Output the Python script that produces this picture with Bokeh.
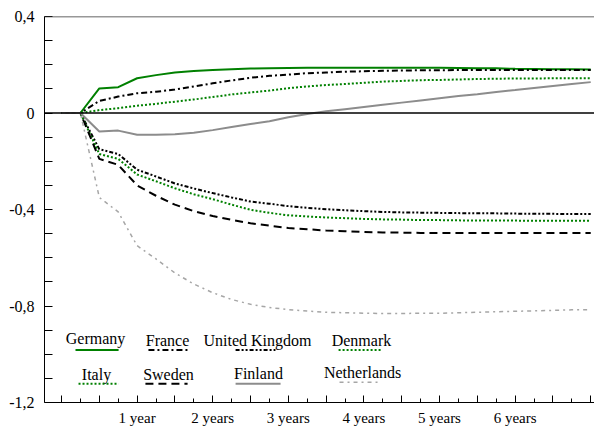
from bokeh.plotting import figure
from bokeh.models import Range1d, FixedTicker, CustomJSTickFormatter, Span
from bokeh.core.properties import value
from bokeh.embed import file_html
from bokeh.resources import INLINE

# ---------------- data (quarters after the shock) ----------------
quarters = list(range(29))
year_ticks = [4, 8, 12, 16, 20, 24]
year_labels = ["1 year", "2 years", "3 years", "4 years", "5 years", "6 years"]

germany = [0, 0, 0.102, 0.107, 0.144, 0.157, 0.168, 0.174, 0.178, 0.181, 0.184, 0.186,
           0.187, 0.188, 0.188, 0.188, 0.188, 0.188, 0.188, 0.188, 0.188, 0.187, 0.186,
           0.185, 0.183, 0.182, 0.181, 0.181, 0.180]
france = [0, 0, 0.050, 0.068, 0.082, 0.088, 0.097, 0.110, 0.123, 0.135, 0.146, 0.154,
          0.159, 0.165, 0.168, 0.171, 0.173, 0.175, 0.176, 0.177, 0.177, 0.178, 0.178,
          0.178, 0.178, 0.178, 0.178, 0.178, 0.178]
united_kingdom = [0, 0, -0.150, -0.170, -0.235, -0.263, -0.292, -0.313, -0.332, -0.350,
                  -0.367, -0.376, -0.386, -0.393, -0.399, -0.403, -0.407, -0.410, -0.412,
                  -0.413, -0.414, -0.415, -0.416, -0.416, -0.417, -0.418, -0.418, -0.419,
                  -0.419]
denmark = [0, 0, 0.012, 0.020, 0.030, 0.038, 0.047, 0.056, 0.066, 0.077, 0.085, 0.093,
           0.103, 0.110, 0.116, 0.120, 0.125, 0.130, 0.133, 0.136, 0.137, 0.139, 0.141,
           0.142, 0.143, 0.143, 0.144, 0.144, 0.144]
italy = [0, 0, -0.170, -0.190, -0.255, -0.283, -0.312, -0.337, -0.357, -0.380, -0.401,
         -0.414, -0.424, -0.429, -0.433, -0.436, -0.439, -0.441, -0.442, -0.444, -0.444,
         -0.445, -0.446, -0.446, -0.446, -0.447, -0.447, -0.447, -0.447]
sweden = [0, 0, -0.190, -0.215, -0.300, -0.343, -0.380, -0.407, -0.427, -0.443, -0.457,
          -0.467, -0.477, -0.482, -0.487, -0.490, -0.493, -0.495, -0.496, -0.497, -0.497,
          -0.497, -0.497, -0.497, -0.497, -0.497, -0.497, -0.497, -0.497]
finland = [0, 0, -0.077, -0.073, -0.090, -0.090, -0.088, -0.082, -0.071, -0.058, -0.046,
           -0.034, -0.018, -0.004, 0.007, 0.016, 0.025, 0.034, 0.043, 0.052, 0.061, 0.070,
           0.078, 0.087, 0.095, 0.104, 0.112, 0.120, 0.128]
netherlands = [0, 0, -0.350, -0.410, -0.550, -0.605, -0.663, -0.709, -0.745, -0.773, -0.793,
               -0.806, -0.815, -0.821, -0.826, -0.828, -0.830, -0.831, -0.831, -0.830,
               -0.830, -0.828, -0.826, -0.824, -0.822, -0.820, -0.818, -0.816, -0.815]

# ---------------- styles ----------------
GREEN = "#008000"
GREY = "#8c8c8c"
LIGHT_GREY = "#a6a6a6"
FONT = "Liberation Serif"

series = [
    # name, values, color, dash, width
    ("Germany", germany, GREEN, "solid", 2),
    ("France", france, "black", "6 3 2 3", 2),
    ("United Kingdom", united_kingdom, "black", "4 2 2 2 2 2", 2),
    ("Denmark", denmark, GREEN, "2 2", 2),
    ("Italy", italy, GREEN, "2 2", 2),
    ("Sweden", sweden, "black", "8 5", 2),
    ("Finland", finland, GREY, "solid", 2),
    ("Netherlands", netherlands, LIGHT_GREY, "4 4 2 4", 1.5),
]

# legend layout (in plot units): text x, text baseline y, sample x0, x1, sample y
legend_layout = {
    "Germany": (1.80, -0.935, 0.74, 3.02, -0.982),
    "France": (5.61, -0.945, 4.60, 6.67, -0.982),
    "United Kingdom": (10.37, -0.945, 9.21, 11.32, -0.982),
    "Denmark": (15.87, -0.945, 14.66, 16.98, -0.982),
    "Italy": (1.85, -1.084, 0.90, 3.02, -1.122),
    "Sweden": (5.66, -1.084, 4.44, 6.67, -1.122),
    "Finland": (10.42, -1.079, 9.21, 11.59, -1.122),
    "Netherlands": (15.93, -1.074, 14.71, 16.88, -1.116),
}

p = figure(width=594, height=428,
           x_range=Range1d(-0.9, 28.2), y_range=Range1d(-1.2, 0.4),
           output_backend="svg", toolbar_location=None,
           min_border_left=44, min_border_right=0, min_border_top=16, min_border_bottom=26)
p.xgrid.visible = False
p.ygrid.visible = False
p.outline_line_color = None
p.background_fill_color = "white"
p.border_fill_color = "white"

# x axis
xa = p.xaxis[0]
xa.ticker = FixedTicker(ticks=[q for q in quarters if q % 2 == 0],
                        minor_ticks=[q for q in quarters if q % 2 == 1])
overrides = {q: "" for q in quarters if q % 2 == 0}
for t, lab in zip(year_ticks, year_labels):
    overrides[t] = lab
xa.major_label_overrides = overrides
xa.major_tick_in = 7
xa.major_tick_out = 0
xa.minor_tick_in = 4
xa.minor_tick_out = 0
xa.major_label_standoff = 7
xa.major_label_text_font_size = "15px"
xa.axis_line_color = "black"
xa.major_tick_line_color = "black"
xa.minor_tick_line_color = "black"

# y axis
ya = p.yaxis[0]
ya.ticker = FixedTicker(ticks=[-1.2, -0.8, -0.4, 0, 0.4],
                        minor_ticks=[-1.1, -1.0, -0.9, -0.7, -0.6, -0.5, -0.3, -0.2, -0.1,
                                     0.1, 0.2, 0.3])
ya.formatter = CustomJSTickFormatter(code="""
if (Math.abs(tick) < 1e-9) { return '0'; }
return tick.toFixed(1).replace('.', ',');
""")
ya.major_tick_in = 8
ya.major_tick_out = 0
ya.minor_tick_in = 8
ya.minor_tick_out = 0
ya.major_label_standoff = 10
ya.major_label_text_font_size = "16px"
ya.axis_line_color = "black"
ya.major_tick_line_color = "black"
ya.minor_tick_line_color = "black"

for ax in (xa, ya):
    ax.major_label_text_font = FONT
    ax.major_label_text_color = "black"

# top border and zero line
p.add_layout(Span(location=0.4, dimension="width", line_color="#333333", line_width=1.5))
p.add_layout(Span(location=0, dimension="width", line_color="black", line_width=1.3))

for name, vals, color, dash, width in series:
    p.line(quarters, vals, line_color=color, line_dash=dash, line_width=width)

# manual legend
for name, vals, color, dash, width in series:
    tx, ty, x0, x1, sy = legend_layout[name]
    p.text(x=[tx], y=[ty], text=[name], text_font=value(FONT), text_font_size="16px",
           text_align="center", text_baseline="alphabetic", text_color="black")
    p.line([x0, x1], [sy, sy], line_color=color, line_dash=dash, line_width=width)

open("out.html", "w").write(file_html(p, INLINE))
